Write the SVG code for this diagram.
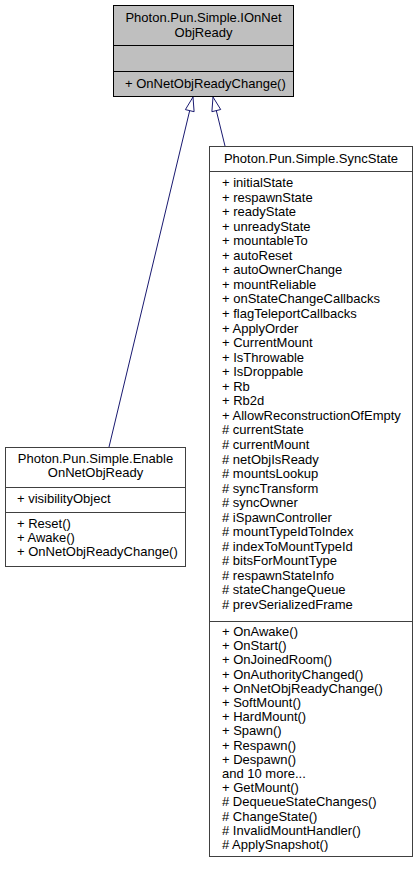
<svg xmlns="http://www.w3.org/2000/svg" width="418" height="873" viewBox="0 0 418 873">
<style>
text{font-family:"Liberation Sans",Arial,sans-serif;font-size:13px;fill:#000}
.c{text-anchor:middle}
.box{fill:#fff;stroke:#404040;stroke-width:1}
.cur{fill:#bfbfbf;stroke:#000;stroke-width:1}
.sep{stroke:#404040;stroke-width:1}
.sepc{stroke:#000;stroke-width:1}
.edge{stroke:#191970;stroke-width:1;fill:none}
.head{fill:#fff;stroke:#191970;stroke-width:1}
</style>
<rect width="418" height="873" fill="#fff"/>
<g id="connectors">
<line class="edge" x1="189.7" y1="110.6" x2="109" y2="447"/>
<polygon class="head" points="193,97 194.1,111.7 185.4,109.6"/>
<line class="edge" x1="216.3" y1="110.6" x2="225" y2="146"/>
<polygon class="head" points="213,97 220.7,109.5 211.9,111.7"/>
</g>
<g id="IOnNetObjReady">
<rect class="cur" x="113.5" y="5.5" width="180" height="91"/>
<line class="sepc" x1="113.5" y1="45.5" x2="293.5" y2="45.5"/>
<line class="sepc" x1="113.5" y1="71.5" x2="293.5" y2="71.5"/>
<text class="c" x="203.5" y="22">Photon.Pun.Simple.IOnNet</text>
<text class="c" x="203.5" y="37">ObjReady</text>
<text x="125" y="88">+ OnNetObjReadyChange()</text>
</g>
<g id="EnableOnNetObjReady">
<rect class="box" x="5.5" y="447.5" width="180" height="119"/>
<line class="sep" x1="5.5" y1="487.5" x2="185.5" y2="487.5"/>
<line class="sep" x1="5.5" y1="512.5" x2="185.5" y2="512.5"/>
<text class="c" x="95.5" y="463">Photon.Pun.Simple.Enable</text>
<text class="c" x="95.5" y="477">OnNetObjReady</text>
<text x="17" y="503">+ visibilityObject</text>
<text x="17" y="528">+ Reset()</text>
<text x="17" y="542">+ Awake()</text>
<text x="17" y="556">+ OnNetObjReadyChange()</text>
</g>
<g id="SyncState">
<rect class="box" x="209.5" y="146.5" width="203" height="710"/>
<line class="sep" x1="209.5" y1="171.5" x2="412.5" y2="171.5"/>
<line class="sep" x1="209.5" y1="621.5" x2="412.5" y2="621.5"/>
<text class="c" x="311" y="163">Photon.Pun.Simple.SyncState</text>
<text x="222" y="187">+ initialState</text>
<text x="222" y="201.6">+ respawnState</text>
<text x="222" y="216.1">+ readyState</text>
<text x="222" y="230.7">+ unreadyState</text>
<text x="222" y="245.2">+ mountableTo</text>
<text x="222" y="259.8">+ autoReset</text>
<text x="222" y="274.3">+ autoOwnerChange</text>
<text x="222" y="288.9">+ mountReliable</text>
<text x="222" y="303.4">+ onStateChangeCallbacks</text>
<text x="222" y="318">+ flagTeleportCallbacks</text>
<text x="222" y="332.5">+ ApplyOrder</text>
<text x="222" y="347.1">+ CurrentMount</text>
<text x="222" y="361.6">+ IsThrowable</text>
<text x="222" y="376.2">+ IsDroppable</text>
<text x="222" y="390.7">+ Rb</text>
<text x="222" y="405.3">+ Rb2d</text>
<text x="222" y="419.8">+ AllowReconstructionOfEmpty</text>
<text x="222" y="434.4"># currentState</text>
<text x="222" y="448.9"># currentMount</text>
<text x="222" y="463.5"># netObjIsReady</text>
<text x="222" y="478"># mountsLookup</text>
<text x="222" y="492.6"># syncTransform</text>
<text x="222" y="507.1"># syncOwner</text>
<text x="222" y="521.7"># iSpawnController</text>
<text x="222" y="536.2"># mountTypeIdToIndex</text>
<text x="222" y="550.8"># indexToMountTypeId</text>
<text x="222" y="565.3"># bitsForMountType</text>
<text x="222" y="579.9"># respawnStateInfo</text>
<text x="222" y="594.4"># stateChangeQueue</text>
<text x="222" y="609"># prevSerializedFrame</text>
<text x="222" y="636">+ OnAwake()</text>
<text x="222" y="650.2">+ OnStart()</text>
<text x="222" y="664.4">+ OnJoinedRoom()</text>
<text x="222" y="678.6">+ OnAuthorityChanged()</text>
<text x="222" y="692.8">+ OnNetObjReadyChange()</text>
<text x="222" y="707">+ SoftMount()</text>
<text x="222" y="721.2">+ HardMount()</text>
<text x="222" y="735.4">+ Spawn()</text>
<text x="222" y="749.6">+ Respawn()</text>
<text x="222" y="763.8">+ Despawn()</text>
<text x="222" y="778">and 10 more...</text>
<text x="222" y="792.2">+ GetMount()</text>
<text x="222" y="806.4"># DequeueStateChanges()</text>
<text x="222" y="820.6"># ChangeState()</text>
<text x="222" y="834.8"># InvalidMountHandler()</text>
<text x="222" y="849"># ApplySnapshot()</text>
</g>
</svg>
